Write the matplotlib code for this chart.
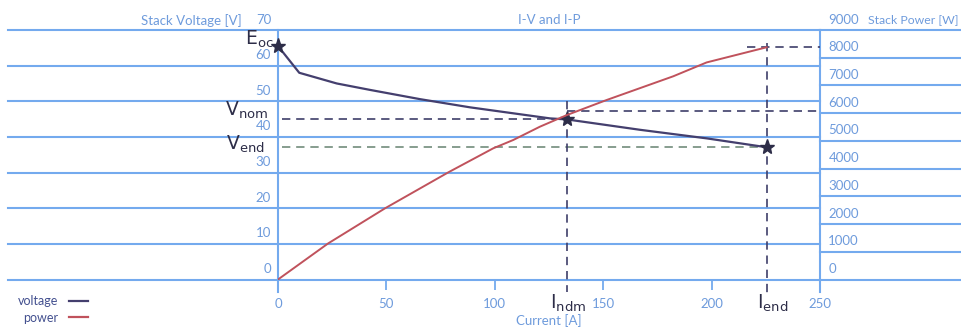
import matplotlib
matplotlib.use("Agg")
import matplotlib.pyplot as plt
from matplotlib.transforms import ScaledTranslation, blended_transform_factory
from matplotlib.lines import Line2D

plt.rcParams['font.family'] = ['Lato', 'DejaVu Sans']

# ---- data ----
current_v = [0, 9.8, 27.1, 42.4, 65.5, 88.6, 125.5, 133.4, 167, 197.7, 225.4]
voltage = [65.5, 58.0, 55.0, 53.2, 50.6, 48.3, 45.2, 44.9, 42.0, 39.6, 37.1]

current_p = [0, 23.1, 49.4, 78.6, 99.3, 108.5, 120.8, 133.3, 151.6, 182.3, 197.7, 225.4]
power = [0, 1300, 2569, 3867, 4733, 5032, 5512, 5934, 6475, 7330, 7830, 8377]

i_nom, i_end = 133.4, 225.4
v_oc, v_nom, v_end = 65.5, 44.9, 37.1
p_nom, p_end = 5934, 8377

v_ticks = [0, 10, 20, 30, 40, 50, 60, 70]
p_ticks = [0, 1000, 2000, 3000, 4000, 5000, 6000, 7000, 8000, 9000]
x_ticks = [0, 50, 100, 150, 200, 250]

# ---- style ----
GRID = '#74aaee'
TXT = '#6e9bdc'
VCOL = '#443f6e'
PCOL = '#c0525c'
DASH = '#3e3e6a'
GREENDASH = '#728c7c'
ANN = '#2d2d48'
FS = 9.5

W, H = 962, 331
fig = plt.figure(figsize=(W / 100, H / 100), dpi=100)
fig.patch.set_facecolor('white')
L, R, T, B = 278, 820, 30, 279.5
ax = fig.add_axes([L / W, (H - B) / H, (R - L) / W, (B - T) / H])
ax2 = ax.twinx()

ax.set_xlim(0, 250)
ax.set_ylim(0, 70)
ax2.set_ylim(0, 9000)
for a in (ax, ax2):
    for s in a.spines.values():
        s.set_visible(False)
    a.patch.set_visible(False)

# gridlines extending beyond the axes
trL = blended_transform_factory(ax.transAxes, ax.transData)
trR = blended_transform_factory(ax2.transAxes, ax2.transData)
xl = (8 - L) / (R - L)
xr = (W + 5 - L) / (R - L)
for v in v_ticks:
    ax.plot([xl, 1], [v, v], transform=trL, color=GRID, lw=1.5, clip_on=False, zorder=1)
for p in p_ticks:
    ax2.plot([1, xr], [p, p], transform=trR, color=GRID, lw=1.5, clip_on=False, zorder=1)
# vertical spines
ybot = (B - 292) / (B - T)
for xx in (0, 1):
    ax.plot([xx, xx], [ybot, 1], transform=ax.transAxes, color=GRID, lw=1.5,
            clip_on=False, zorder=1)

# ticks
ax.set_xticks(x_ticks)
ax.tick_params(axis='x', direction='out', length=7, width=1.3, color=GRID,
               labelcolor=TXT, labelsize=FS, pad=6)
ax.set_yticks(v_ticks)
ax.tick_params(axis='y', length=0, labelcolor=TXT, labelsize=FS, pad=5)
ax2.set_yticks(p_ticks)
ax2.tick_params(axis='y', length=0, labelcolor=TXT, labelsize=FS, pad=6)
off = ScaledTranslation(0, 0.115, fig.dpi_scale_trans)
for lab in ax.get_yticklabels() + ax2.get_yticklabels():
    lab.set_transform(lab.get_transform() + off)

# curves
ax.plot(current_v, voltage, color=VCOL, lw=1.6, zorder=4)
ax2.plot(current_p, power, color=PCOL, lw=1.4, zorder=4)

# dashed guide lines
dk = dict(lw=1.2, dashes=(5, 3.5), clip_on=False, zorder=3)
ax.plot([1.8, i_nom], [v_nom, v_nom], color=DASH, **dk)
ax.plot([1.8, i_end], [v_end, v_end], color=GREENDASH, **dk)
ax2.plot([i_nom, 250], [p_nom + 150, p_nom + 150], color=DASH, **dk)
ax2.plot([216.3, 250], [p_end, p_end], color=DASH, **dk)
ax.plot([i_nom, i_nom], [50, -3.6], color=DASH, **dk)
ax.plot([i_end, i_end], [66.4, -4.4], color=DASH, **dk)

# markers
ax.plot([0, i_nom, i_end], [v_oc, v_nom, v_end], linestyle='none', marker='*',
        markersize=11, color=ANN, clip_on=False, zorder=5)

# annotations
ak = dict(fontsize=13.5, color=ANN, clip_on=False, family=['DejaVu Sans'])
ax.text(-2.0, 67.4, r'$\mathregular{E_{oc}}$', ha='right', va='center', **ak)
ax.text(-4.6, 47.5, r'$\mathregular{V_{nom}}$', ha='right', va='center', **ak)
ax.text(-6.0, 38.0, r'$\mathregular{V_{end}}$', ha='right', va='center', **ak)
ax.text(125.5, -6.6, r'$\mathregular{I_{ndm}}$', ha='left', va='center', **ak)
ax.text(221.0, -6.6, r'$\mathregular{I_{end}}$', ha='left', va='center', **ak)

# titles / axis labels
ax.text(0.5, 1.04, 'I-V and I-P', transform=ax.transAxes, ha='center', va='center',
        color=TXT, fontsize=FS)
ax.text((242 - L) / (R - L), 1.04, 'Stack Voltage [V]', transform=ax.transAxes,
        ha='right', va='center', color=TXT, fontsize=FS)
ax.text((868 - L) / (R - L), 1.04, 'Stack Power [W]', transform=ax.transAxes,
        ha='left', va='center', color=TXT, fontsize=8.8)
ax.set_xlabel('Current [A]', color=TXT, fontsize=FS, labelpad=3)

# legend
handles = [Line2D([], [], color=VCOL, lw=1.6), Line2D([], [], color=PCOL, lw=1.6)]
leg = fig.legend(handles, ['voltage', 'power'], loc='lower left',
                 bbox_to_anchor=(10 / W, 0.0), markerfirst=False, frameon=False,
                 handlelength=1.5, handletextpad=0.9, labelspacing=0.35,
                 fontsize=9, borderpad=0.1)
for t in leg.get_texts():
    t.set_color('#43508f')

fig.savefig('out.png', dpi=100, facecolor='white')
